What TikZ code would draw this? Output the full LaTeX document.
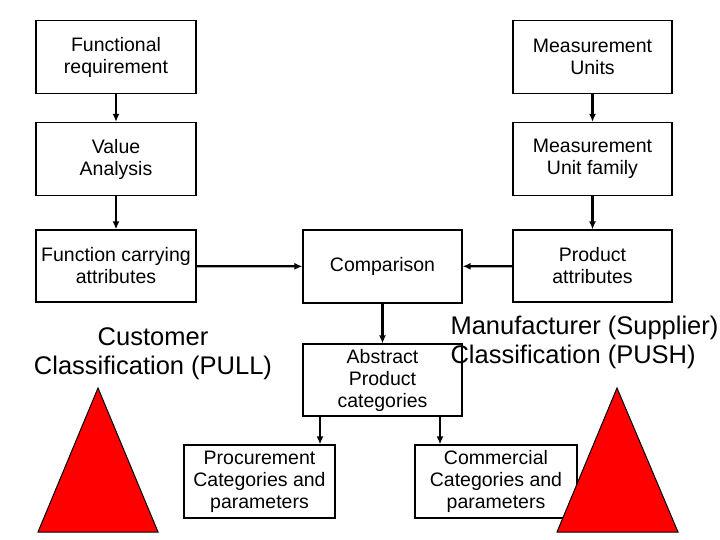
\documentclass[tikz,border=0pt]{standalone}
\usepackage{fontspec}
\setmainfont{Liberation Sans}
\usetikzlibrary{arrows.meta}
\tikzset{
    box/.style={rectangle, draw=black, line width=1.2pt, fill=white, align=center, font=\fontsize{19.5}{22}\selectfont, inner sep=0pt},
    arrow/.style={-{Latex[length=8pt,width=7pt]}, line width=2.2pt},
    big/.style={align=center, font=\fontsize{25.5}{29}\selectfont},
    tri/.style={fill=red, draw=black, line width=1pt}
}
\begin{document}
\begin{tikzpicture}[x=1pt,y=-1pt]
    \useasboundingbox (0,0) rectangle (720,540);
    % boxes
    \node[box, minimum width=160, minimum height=73] (fr) at (116,57) {Functional\\requirement};
    \node[box, minimum width=159, minimum height=73] (mu) at (592.5,57) {Measurement\\Units};
    \node[box, minimum width=160, minimum height=73] (va) at (116,159) {Value\\Analysis};
    \node[box, minimum width=159, minimum height=73] (muf) at (592.5,159) {Measurement\\Unit family};
    \node[box, minimum width=160, minimum height=72] (fca) at (116,266) {Function carrying\\attributes};
    \node[box, minimum width=159, minimum height=73] (cmp) at (382.5,266.5) {Comparison};
    \node[box, minimum width=159, minimum height=72] (pa) at (592.5,266) {Product\\attributes};
    \node[box, minimum width=159, minimum height=72] (apc) at (382.5,380) {Abstract\\Product\\categories};
    \node[box, minimum width=151, minimum height=73] (pcp) at (259.5,481.5) {Procurement\\Categories and\\parameters};
    \node[box, minimum width=162, minimum height=73] (ccp) at (496,481.5) {Commercial\\Categories and\\parameters};
    % connectors
    \draw[arrow] (fr) -- (va);
    \draw[arrow] (va) -- (fca);
    \draw[arrow] (mu) -- (muf);
    \draw[arrow] (muf) -- (pa);
    \draw[arrow] (fca) -- (cmp);
    \draw[arrow] (pa) -- (cmp);
    \draw[arrow] (cmp) -- (apc);
    \draw[arrow] (apc.south -| 320,0) -- (pcp.north -| 320,0);
    \draw[arrow] (apc.south -| 440,0) -- (ccp.north -| 440,0);
    % classification labels
    \node[big] (cust) at (153,354) {Customer\\Classification (PULL)};
    \node[big, align=left, anchor=west] (manu) at (447,342) {Manufacturer (Supplier)\\Classification (PUSH)};
    % triangles
    \draw[tri] (98,388) -- (158,532) -- (38,532) -- cycle;
    \draw[tri] (617,388) -- (678,532) -- (557,532) -- cycle;
\end{tikzpicture}
\end{document}
